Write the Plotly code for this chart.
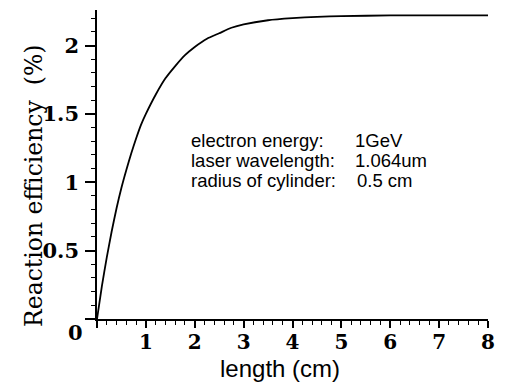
import plotly.graph_objects as go

# Reaction efficiency vs. interaction length
length_cm = [0, 0.1, 0.2, 0.3, 0.4, 0.5, 0.6, 0.7, 0.8, 0.9, 1.0, 1.2, 1.4, 1.6,
             1.8, 2.0, 2.25, 2.5, 2.75, 3.0, 3.5, 4.0, 4.5, 5.0, 6.0, 7.0, 8.0]
efficiency_pct = [0, 0.24, 0.45, 0.64, 0.81, 0.96, 1.09, 1.21, 1.32, 1.42, 1.50, 1.64,
                  1.76, 1.85, 1.93, 1.99, 2.05, 2.09, 2.13, 2.155, 2.185, 2.20, 2.21,
                  2.215, 2.22, 2.22, 2.22]

x_tickvals = [0, 1, 2, 3, 4, 5, 6, 7, 8]
x_ticktext = ["", "1", "2", "3", "4", "5", "6", "7", "8"]
y_tickvals = [0, 0.5, 1, 1.5, 2]
y_ticktext = ["", "0.5", "1", "1.5", "2"]
origin_label = "0"

info_labels = ["electron energy:", "laser wavelength:", "radius of cylinder:"]
info_values = ["1GeV", "1.064um", "0.5 cm"]

x_title = "length (cm)"
y_title = "Reaction\u00a0efficiency\u00a0\u00a0(%)"

# pixel geometry of the plotting area
W, H = 505, 388
L, R, T, B = 97, 11, 10, 69
pw, ph = W - L - R, H - T - B


def px_x(p):
    return (p - L) / pw


def px_y(p):
    return (H - B - p) / ph


tick_font = dict(family="DejaVu Serif", size=21, color="black", weight="bold")
xtick_font = dict(family="DejaVu Serif", size=20, color="black", weight="bold")
sans = "Liberation Sans, Arial, sans-serif"

fig = go.Figure()
fig.add_trace(go.Scatter(
    x=length_cm, y=efficiency_pct, mode="lines",
    line=dict(color="black", width=1.8, shape="spline", smoothing=0.6),
    hoverinfo="skip", showlegend=False,
))

fig.update_layout(
    width=W, height=H,
    margin=dict(l=L, r=R, t=T, b=B),
    paper_bgcolor="white", plot_bgcolor="white",
    xaxis=dict(
        range=[0, 8], showgrid=False, zeroline=False,
        showline=True, linecolor="black", linewidth=1.5,
        tickmode="array", tickvals=x_tickvals, ticktext=x_ticktext,
        ticks="outside", ticklen=7, tickwidth=1.5, tickcolor="black",
        tickfont=xtick_font, ticklabelstandoff=-3,
        minor=dict(dtick=0.2, ticks="outside", ticklen=4, tickwidth=1.2,
                   tickcolor="black", showgrid=False),
    ),
    yaxis=dict(
        range=[0, 2.26], showgrid=False, zeroline=False,
        showline=True, linecolor="black", linewidth=1.5,
        tickmode="array", tickvals=y_tickvals, ticktext=y_ticktext,
        ticks="outside", ticklen=10, tickwidth=1.5, tickcolor="black",
        tickfont=tick_font, ticklabelstandoff=2,
        minor=dict(dtick=0.1, ticks="outside", ticklen=4, tickwidth=1.2,
                   tickcolor="black", showgrid=False),
    ),
)

annotations = [
    dict(text=origin_label, xref="paper", yref="paper",
         x=px_x(75), y=px_y(333), xanchor="center", yanchor="middle",
         showarrow=False, font=tick_font),
    dict(text=x_title, xref="paper", yref="paper",
         x=px_x(283), y=px_y(368), xanchor="center", yanchor="middle",
         showarrow=False, font=dict(family=sans, size=24, color="black")),
    dict(text=y_title, xref="paper", yref="paper", textangle=-90,
         x=px_x(33), y=px_y(186), xanchor="center", yanchor="middle",
         showarrow=False, font=dict(family="DejaVu Serif", size=23.5, color="black")),
]

row_y = [140, 160, 180]
value_x = [357, 357, 359]
for lab, val, ry, vx in zip(info_labels, info_values, row_y, value_x):
    annotations.append(dict(text=lab, xref="paper", yref="paper",
                            x=px_x(190), y=px_y(ry), xanchor="left", yanchor="middle",
                            showarrow=False,
                            font=dict(family=sans, size=18.5, color="black")))
    annotations.append(dict(text=val, xref="paper", yref="paper",
                            x=px_x(vx), y=px_y(ry), xanchor="left", yanchor="middle",
                            showarrow=False,
                            font=dict(family=sans, size=18.5, color="black")))

fig.update_layout(annotations=annotations)
fig.write_html("out.html")
